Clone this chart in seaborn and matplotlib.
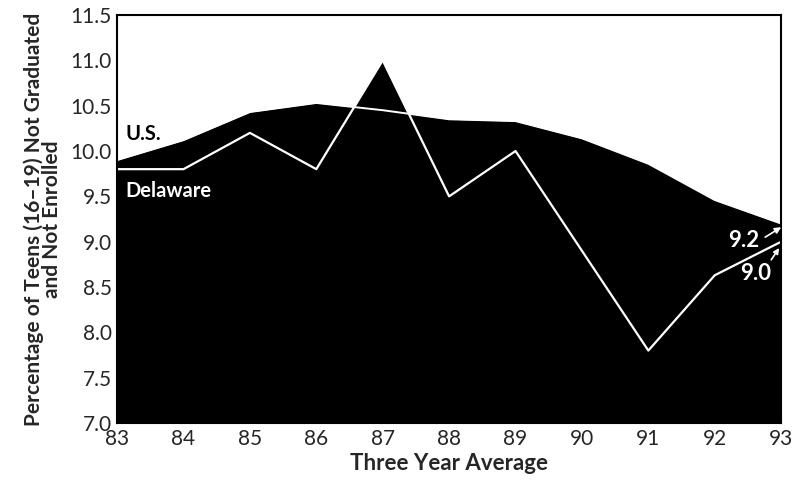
import matplotlib
matplotlib.use("Agg")
import matplotlib.pyplot as plt
import seaborn as sns
import pandas as pd

years = [83, 84, 85, 86, 87, 88, 89, 90, 91, 92, 93]
us_values = [9.9, 10.12, 10.43, 10.53, 10.45, 10.35, 10.33, 10.14, 9.86, 9.46, 9.2]
delaware_values = [9.8, 9.8, 10.2, 9.8, 11.0, 9.5, 10.0, 8.9, 7.8, 8.63, 9.0]
y_ticks = [7.0, 7.5, 8.0, 8.5, 9.0, 9.5, 10.0, 10.5, 11.0, 11.5]

df = pd.DataFrame({"year": years, "U.S.": us_values, "Delaware": delaware_values})

sns.set_theme(style="white")
plt.rcParams["font.family"] = ["Lato", "DejaVu Sans"]

fig = plt.figure(figsize=(8.02, 4.83), dpi=100)
ax = fig.add_axes([0.146, 0.124, 0.828, 0.845])

ax.fill_between(df["year"], 7.0, df["U.S."], color="black", lw=0)
ax.fill_between(df["year"], 7.0, df["Delaware"], color="black", lw=0)
sns.lineplot(data=df, x="year", y="U.S.", color="white", lw=1.4, ax=ax)
sns.lineplot(data=df, x="year", y="Delaware", color="white", lw=1.6, ax=ax)

ax.set_xlim(83, 93)
ax.set_ylim(7.0, 11.5)
ax.set_xticks(years)
ax.set_xticklabels([str(y) for y in years], fontsize=15)
ax.set_yticks(y_ticks)
ax.set_yticklabels([f"{v:.1f}" for v in y_ticks], fontsize=15)
ax.tick_params(axis="both", length=0, pad=4)
ax.set_xlabel("Three Year Average", fontsize=16, fontweight="bold", labelpad=3)
ax.set_ylabel("Percentage of Teens (16–19) Not Graduated\nand Not Enrolled",
              fontsize=15, fontweight="bold", linespacing=0.85, labelpad=6)
for s in ax.spines.values():
    s.set_color("black")
    s.set_linewidth(1.5)

ax.text(83.12, 10.19, "U.S.", color="black", fontsize=14.5, fontweight="bold", va="center", ha="left")
ax.text(83.12, 9.56, "Delaware", color="white", fontsize=14.5, fontweight="bold", va="center", ha="left")

ax.text(92.44, 9.01, "9.2", color="white", fontsize=16, fontweight="bold", ha="center", va="center")
ax.text(92.62, 8.65, "9.0", color="white", fontsize=16, fontweight="bold", ha="center", va="center")
ax.annotate("", xy=(93.0, 9.16), xytext=(92.76, 9.05),
            arrowprops=dict(arrowstyle="-|>", color="white", lw=1.2, shrinkA=0, shrinkB=0, mutation_scale=9))
ax.annotate("", xy=(92.97, 8.93), xytext=(92.85, 8.80),
            arrowprops=dict(arrowstyle="-|>", color="white", lw=1.2, shrinkA=0, shrinkB=0, mutation_scale=8))

fig.savefig("out.png", dpi=100, facecolor="white")
